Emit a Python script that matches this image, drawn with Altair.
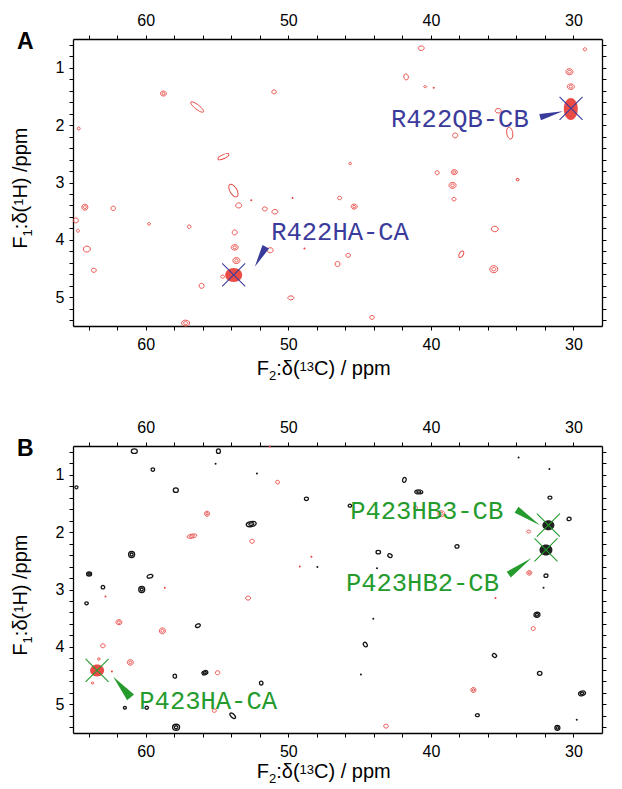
import math
import altair as alt
import pandas as pd

# ---------------- scales / ticks ----------------
X_DOMAIN = [65.1, 28.0]
Y_DOMAIN = [0.5, 5.5]
PANEL_W, PANEL_H = 529, 287
X_TICKS = list(range(30, 65, 2))
Y_TICKS = [round(0.6 + 0.2 * i, 1) for i in range(25)]
# title pieces: (text, role)  role 0 = normal, 1 = subscript, -1 = superscript
X_TITLE_PIECES = [("F", 0), ("2", 1), (":\u03b4(", 0), ("13", -1), ("C) / ppm", 0)]
Y_TITLE_PIECES = [("F", 0), ("1", 1), (":\u03b4(", 0), ("1", -1), ("H)   /ppm", 0)]

RED = "#e8423c"
BLACK = "#151515"
BLUE = "#3b3b9b"
GREEN = "#259b2d"

# ---------------- panel A data ----------------
# contour peaks: (13C ppm, 1H ppm, width px, height px, tilt deg, rings)
A_RED = [
    (58.76, 1.45, 6, 5, 0, 2), (56.39, 1.685, 16, 4.5, 38, 1), (51.0, 1.42, 4.5, 4, 0, 1),
    (64.7, 2.06, 3, 3, 0, 1), (54.55, 2.55, 12, 4, 155, 1), (53.85, 3.14, 14, 7, 60, 1),
    (40.68, 0.66, 6, 4.5, 0, 1), (29.2, 0.68, 3.5, 3, 0, 1), (41.74, 1.16, 6, 4.5, 80, 1),
    (40.4, 1.33, 3, 2, 0, 1), (30.28, 1.07, 7, 6, 0, 2), (30.19, 1.33, 7, 5.5, 0, 2),
    (35.28, 1.75, 6, 4.5, 0, 1), (34.47, 2.14, 12, 6, 80, 1), (38.3, 2.18, 5, 5, 0, 1),
    (45.66, 2.67, 2.5, 2.5, 0, 1), (39.56, 2.83, 4, 4, 0, 1), (38.36, 2.82, 6, 5, 0, 2),
    (38.48, 3.05, 7, 6, 0, 2), (33.92, 2.95, 3, 2.5, 30, 1), (46.4, 3.27, 4, 3.5, 0, 1),
    (38.38, 3.29, 4, 3.5, 0, 1), (64.27, 3.43, 6, 6, 0, 2), (62.28, 3.45, 4.5, 4.5, 0, 1),
    (64.9, 3.66, 5, 5, 0, 1), (64.75, 3.84, 3, 3, 0, 1), (59.77, 3.72, 3, 2.5, 0, 1),
    (56.95, 3.77, 3.5, 3.5, 0, 1), (53.48, 3.40, 6, 5, 0, 1), (51.65, 3.46, 5, 4, 0, 1),
    (50.94, 3.51, 6, 4.5, 0, 1), (53.76, 3.87, 5, 5, 0, 1), (53.76, 4.13, 7, 5.5, 0, 2),
    (53.64, 4.36, 7, 6, 0, 2), (54.6, 4.64, 4, 3, 0, 1), (64.13, 4.16, 7, 6, 0, 1),
    (63.64, 4.53, 5, 4, 0, 1), (56.08, 4.80, 5, 5, 0, 1), (57.2, 5.45, 8, 6, 0, 2),
    (51.27, 4.18, 6, 5, 0, 1), (49.82, 5.01, 6, 4, 0, 1), (45.38, 3.42, 6, 5, 0, 2),
    (35.52, 3.81, 7, 5.5, 0, 1), (37.87, 4.25, 7, 4, 120, 1), (45.8, 4.27, 4.5, 4, 0, 1),
    (46.55, 4.42, 5, 5, 0, 1), (35.59, 4.51, 8, 7, 0, 2), (44.13, 5.35, 4.5, 4, 0, 1),
]
A_RED_DOTS = [(49.7, 3.27), (52.6, 3.31), (48.87, 4.15), (39.8, 1.35)]
# strong assigned peaks: (13C, 1H, width px, height px, tilt)
A_STRONG = [(30.19, 1.72, 22, 14, 90), (53.83, 4.61, 17, 14, 0)]
A_CROSS = [(30.17, 1.71), (53.83, 4.61)]
A_LABELS = ["R422QB-CB", "R422HA-CA"]
A_LABEL_X = [42.8, 51.2]
A_LABEL_Y = [1.886, 3.87]
# arrows: (base 13C, base 1H, tip 13C, tip 1H, base width px)
A_ARROWS = [(32.34, 1.86, 30.75, 1.76, 6.5), (51.58, 4.12, 52.35, 4.466, 7.5)]

# ---------------- panel B data ----------------
B_BLACK = [
    (60.8, 0.59, 6, 4.5, 0, 1), (54.9, 0.59, 4.5, 4, 90, 1), (59.5, 0.91, 3.5, 3.5, 0, 1),
    (64.86, 1.22, 3, 3, 0, 1), (57.89, 1.27, 5, 4.5, 0, 1), (48.73, 1.42, 4, 3.5, 0, 1),
    (52.6, 1.86, 10, 5, 170, 2), (60.99, 2.39, 6, 6, 0, 2), (63.97, 2.73, 5, 4, 0, 2),
    (59.7, 2.77, 6, 3.5, 165, 1), (63.0, 2.96, 3.5, 3.5, 0, 1), (60.28, 3.0, 6, 6, 0, 2),
    (41.86, 1.09, 5, 3.5, 110, 1), (40.85, 1.30, 8, 4, 0, 2), (31.65, 1.40, 4, 3, 0, 1),
    (45.68, 1.54, 3.5, 3, 0, 1), (30.31, 1.77, 4, 3.5, 0, 1), (38.17, 2.25, 4, 3.5, 0, 1),
    (43.69, 2.35, 4.5, 3.5, 0, 1), (42.87, 2.41, 4.5, 3.5, 30, 1), (31.93, 2.76, 4, 3.5, 0, 1),
    (64.15, 3.24, 3.5, 3, 0, 1), (56.34, 3.63, 5, 3.5, 160, 1), (55.85, 4.45, 6, 4, 160, 2),
    (57.96, 4.51, 3.5, 4, 0, 1), (51.9, 4.63, 3.5, 4, 0, 1), (61.46, 5.06, 3, 2.5, 0, 1),
    (59.93, 5.06, 3.5, 3, 0, 1), (53.9, 5.20, 7, 3.5, 45, 1), (57.87, 5.40, 7, 6, 0, 2),
    (32.56, 3.44, 6, 5, 0, 2), (44.6, 3.96, 5, 3.5, 60, 1), (35.54, 4.15, 4.5, 3.5, 40, 1),
    (32.37, 4.46, 4.5, 4, 0, 1), (29.4, 4.81, 7, 4.5, 165, 2), (36.74, 5.19, 4, 3, 0, 1),
    (31.13, 5.41, 5, 5, 0, 2),
]
B_BLACK_DOTS = [(55.1, 0.81), (47.96, 2.61), (33.85, 0.70), (31.69, 0.90), (43.78, 2.63),
                (32.1, 2.97), (44.04, 3.51), (44.91, 4.48), (29.77, 5.27), (52.2, 0.98)]
B_RED = [
    (50.75, 1.13, 4, 3.5, 45, 1), (55.7, 1.68, 5, 5, 0, 2), (56.76, 2.07, 10, 4, 170, 2),
    (52.54, 2.16, 4.5, 4, 0, 1), (39.27, 1.68, 7, 6, 0, 2), (41.08, 1.58, 4, 4, 0, 1),
    (33.14, 1.99, 4, 3, 0, 1), (33.1, 2.71, 5, 4.5, 0, 2), (52.82, 3.15, 5, 4, 0, 1),
    (61.88, 3.57, 6, 5, 0, 2), (58.83, 3.72, 6, 6, 0, 2), (63.0, 3.98, 4.5, 4, 0, 1),
    (63.29, 4.21, 2.5, 2.5, 0, 1), (61.08, 4.27, 6, 5.5, 0, 2), (63.73, 4.63, 2.5, 2, 0, 1),
    (54.96, 4.45, 4.5, 4, 0, 1), (55.19, 5.11, 4, 3.5, 0, 1), (32.82, 3.68, 4, 4, 0, 1),
    (37.02, 4.75, 5, 5, 0, 2), (43.15, 5.38, 4.5, 4, 0, 1),
]
B_RED_DOTS = [(51.3, 0.51), (48.38, 2.43), (49.2, 2.60), (58.66, 2.97), (62.82, 3.12),
              (62.37, 4.43), (35.47, 3.15)]
B_STRONG_BLACK = [(31.76, 1.88, 12, 10, 0), (31.93, 2.31, 13, 11, 0)]
B_STRONG_RED = [(63.41, 4.41, 14, 12, 0)]
B_CROSS = [(31.76, 1.88), (31.93, 2.31), (63.41, 4.41)]
B_LABELS = ["P423HB3-CB", "P423HB2-CB", "P423HA-CA"]
B_LABEL_X = [45.66, 45.96, 60.45]
B_LABEL_Y = [1.64, 2.89, 4.95]
B_ARROWS = [(33.99, 1.61, 32.35, 1.88, 7), (34.54, 2.74, 32.94, 2.45, 7),
            (61.06, 4.88, 62.28, 4.52, 9)]

# ---------------- helpers ----------------
PX_PER_X = PANEL_W / (X_DOMAIN[1] - X_DOMAIN[0])
PX_PER_Y = PANEL_H / (Y_DOMAIN[1] - Y_DOMAIN[0])
CROSS_PATH = "M-1,-1L1,1M1,-1L-1,1"
SANS = "Liberation Sans"
MAIN_FS, SCRIPT_FS = 20, 13
SHIFT = {0: 0, 1: 5, -1: -4.5}
ADV = {"F": .611, "1": .556, "2": .556, "3": .556, "H": .722, ":": .278, "\u03b4": .556,
       "(": .333, ")": .333, "C": .722, " ": .278, "/": .278, "p": .556, "m": .833}


def piece_len(txt, role):
    fs = MAIN_FS if role == 0 else SCRIPT_FS
    return sum(ADV.get(c, 0.55) for c in txt) * fs


def title_layers(pieces, vertical, anchor, center):
    total = sum(piece_len(t, r) for t, r in pieces)
    pos = center - total / 2 if not vertical else center + total / 2
    out = []
    for txt, role in pieces:
        fs = MAIN_FS if role == 0 else SCRIPT_FS
        src = pd.DataFrame(dict(t=[txt]))
        if vertical:
            mk = alt.Chart(src).mark_text(align="left", baseline="alphabetic", font=SANS,
                                          fontSize=fs, angle=270, color="black")
            enc = mk.encode(x=alt.value(anchor + SHIFT[role]), y=alt.value(pos), text="t:N")
            pos -= piece_len(txt, role)
        else:
            mk = alt.Chart(src).mark_text(align="left", baseline="alphabetic", font=SANS,
                                          fontSize=fs, color="black")
            enc = mk.encode(x=alt.value(pos), y=alt.value(anchor + SHIFT[role]), text="t:N")
            pos += piece_len(txt, role)
        out.append(enc)
    return out


def ellipse_path(ratio):
    r = round(ratio, 3)
    return f"M-1,0A1,{r},0,1,1,1,0A1,{r},0,1,1,-1,0Z"


def contour_df(peaks, color, sw):
    rows = []
    for x, y, w, h, tilt, rings in peaks:
        scales = [1.0] if rings == 1 else [1.0, 0.5]
        for s in scales:
            rows.append(dict(x=x, y=y, size=(w * s) ** 2, path=ellipse_path(h / w),
                             angle=tilt % 180, color=color, sw=sw))
    return pd.DataFrame(rows)


def strong_df(peaks, color):
    return pd.DataFrame([dict(x=x, y=y, size=w ** 2, path=ellipse_path(h / w),
                              angle=t % 180, color=color) for x, y, w, h, t in peaks])


def dots_df(dots, color):
    return pd.DataFrame([dict(x=x, y=y, color=color) for x, y in dots])


def arrow_df(arrows, color):
    rows = []
    for bx, by, tx, ty, bw in arrows:
        dx = (tx - bx) * PX_PER_X
        dy = (ty - by) * PX_PER_Y
        length = math.hypot(dx, dy)
        ang = math.degrees(math.atan2(dx, -dy)) % 360
        hw = round(bw / 2 / (length / 2), 3)
        rows.append(dict(x=(bx + tx) / 2, y=(by + ty) / 2, size=length ** 2,
                         angle=ang, path=f"M0,-1L{hw},1L{-hw},1Z", color=color))
    return pd.DataFrame(rows)


xs = alt.Scale(domain=X_DOMAIN, nice=False, zero=False)
ys = alt.Scale(domain=Y_DOMAIN, nice=False, zero=False, reverse=True)
XLAB = "datum.value % 10 === 0 ? format(datum.value, 'd') : ''"
YLAB = "abs(datum.value - round(datum.value)) < 0.001 ? format(datum.value, 'd') : ''"

AX_COMMON = dict(tickSize=4, tickWidth=1, domainWidth=1.3, labelFontSize=16, labelFont=SANS,
                 domainColor="black", tickColor="black", labelColor="black", grid=False,
                 title=None)
x_bottom = alt.Axis(orient="bottom", values=X_TICKS, labelExpr=XLAB, labelPadding=6, **AX_COMMON)
x_top = alt.Axis(orient="top", values=X_TICKS, labelExpr=XLAB, labelPadding=7, **AX_COMMON)
y_left = alt.Axis(orient="left", values=Y_TICKS, labelExpr=YLAB, labelPadding=5, **AX_COMMON)
y_right = alt.Axis(orient="right", values=Y_TICKS, labels=False, **AX_COMMON)


def build_panel(letter, contour_frames, dot_frames, strong_frames, crosses, cross_color,
                labels, lab_x, lab_y, lab_color, arrows, xtitle_offset, anchor_box):
    cont = pd.concat(contour_frames, ignore_index=True)
    dots = pd.concat(dot_frames, ignore_index=True)
    strong = pd.concat(strong_frames, ignore_index=True)
    cross = pd.DataFrame([dict(x=x, y=y, color=cross_color) for x, y in crosses])
    labs = pd.DataFrame(dict(text=labels, x=lab_x, y=lab_y, color=lab_color))
    arr = arrow_df(arrows, lab_color)

    xn = alt.X("x:Q", scale=xs, axis=None)
    yn = alt.Y("y:Q", scale=ys, axis=None)

    l_cont = alt.Chart(cont).mark_point(filled=False, opacity=1).encode(
        x=alt.X("x:Q", scale=xs, axis=x_bottom),
        y=alt.Y("y:Q", scale=ys, axis=y_left),
        shape=alt.Shape("path:N", scale=None),
        size=alt.Size("size:Q", scale=None),
        angle=alt.Angle("angle:Q", scale=None),
        stroke=alt.Stroke("color:N", scale=None),
        strokeWidth=alt.StrokeWidth("sw:Q", scale=None),
    )
    l_dots = alt.Chart(dots).mark_circle(size=4, opacity=1).encode(
        x=xn, y=yn, color=alt.Color("color:N", scale=None))
    l_strong = alt.Chart(strong).mark_point(filled=True, opacity=0.95).encode(
        x=xn, y=yn,
        shape=alt.Shape("path:N", scale=None),
        size=alt.Size("size:Q", scale=None),
        angle=alt.Angle("angle:Q", scale=None),
        fill=alt.Fill("color:N", scale=None),
    )
    l_cross = alt.Chart(cross).mark_point(filled=False, shape=CROSS_PATH, size=529,
                                          strokeWidth=1.1, opacity=1).encode(
        x=alt.X("x:Q", scale=xs, axis=x_top),
        y=alt.Y("y:Q", scale=ys, axis=y_right),
        stroke=alt.Stroke("color:N", scale=None),
    )
    l_arrow = alt.Chart(arr).mark_point(filled=True, opacity=1, strokeWidth=0).encode(
        x=xn, y=yn,
        shape=alt.Shape("path:N", scale=None),
        size=alt.Size("size:Q", scale=None),
        angle=alt.Angle("angle:Q", scale=None),
        fill=alt.Fill("color:N", scale=None),
    )
    l_text = alt.Chart(labs).mark_text(align="left", baseline="middle",
                                       font="Liberation Mono", fontSize=25.5).encode(
        x=xn, y=yn, text="text:N", color=alt.Color("color:N", scale=None))
    l_letter = alt.Chart(pd.DataFrame(dict(t=[letter]))).mark_text(
        align="left", baseline="alphabetic", font=SANS, fontSize=23,
        fontWeight="bold", color="black").encode(
        x=alt.value(-56), y=alt.value(10), text="t:N")

    titles = (title_layers(X_TITLE_PIECES, False, PANEL_H + xtitle_offset, 250.7)
              + title_layers(Y_TITLE_PIECES, True, -46, PANEL_H / 2))
    layers = [l_cont, l_dots, l_strong, l_cross, l_arrow, l_text, l_letter] + titles
    if anchor_box:
        # invisible corner marker fixing the chart's top-left extent
        layers.append(alt.Chart(pd.DataFrame(dict(k=[0]))).mark_rule(
            opacity=0, strokeWidth=1).encode(
            x=alt.value(-64.8), y=alt.value(-30.8), y2=alt.value(-30.0)))

    return alt.layer(*layers).resolve_axis(
        x="independent", y="independent").properties(width=PANEL_W, height=PANEL_H)


panel_a = build_panel(
    "A", [contour_df(A_RED, RED, 0.9)], [dots_df(A_RED_DOTS, RED)],
    [strong_df(A_STRONG, RED)], A_CROSS, BLUE,
    A_LABELS, A_LABEL_X, A_LABEL_Y, BLUE, A_ARROWS, 49, True)

panel_b = build_panel(
    "B", [contour_df(B_RED, RED, 0.9), contour_df(B_BLACK, BLACK, 1.3)],
    [dots_df(B_RED_DOTS, RED), dots_df(B_BLACK_DOTS, BLACK)],
    [strong_df(B_STRONG_BLACK, BLACK), strong_df(B_STRONG_RED, RED)], B_CROSS, GREEN,
    B_LABELS, B_LABEL_X, B_LABEL_Y, GREEN, B_ARROWS, 45, False)

chart = alt.vconcat(panel_a, panel_b, spacing=120, bounds="flush").configure_view(
    stroke=None).properties(padding={"left": 0, "top": 0, "right": 0, "bottom": 0})

chart.save("out.html", embed_options={"renderer": "svg", "actions": False})
